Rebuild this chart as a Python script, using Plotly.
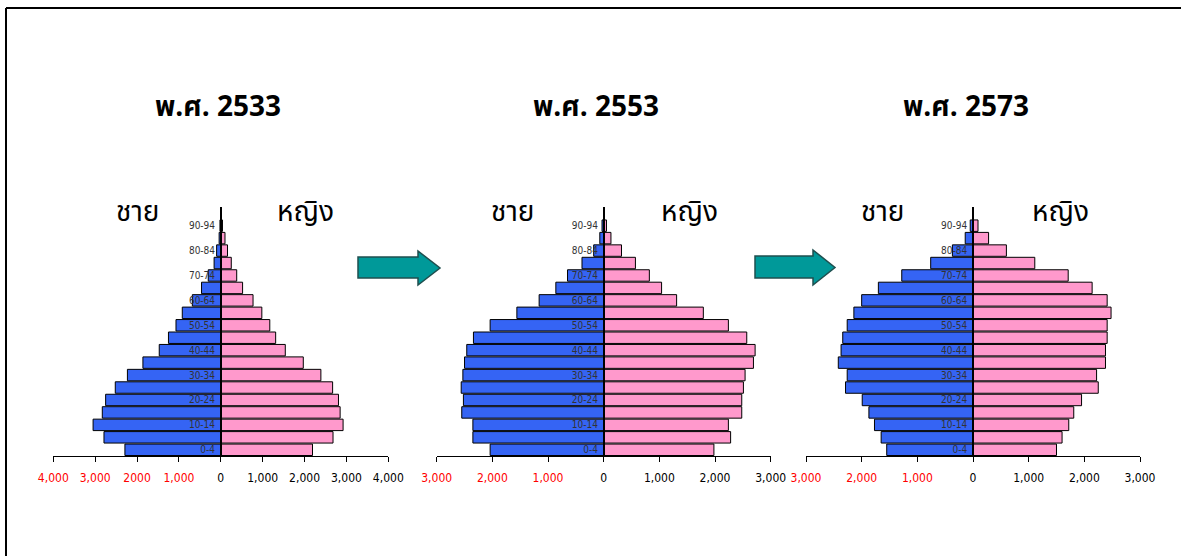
import plotly.graph_objects as go

W, H = 1181, 556

ages = ["0-4", "5-9", "10-14", "15-19", "20-24", "25-29", "30-34", "35-39", "40-44",
        "45-49", "50-54", "55-59", "60-64", "65-69", "70-74", "75-79", "80-84", "85-89", "90-94"]

# thousands of persons
male_2533 = [2290, 2790, 3050, 2830, 2750, 2520, 2230, 1860, 1470, 1250, 1070, 920, 680, 460, 300, 160, 100, 40, 20]
female_2533 = [2190, 2680, 2920, 2850, 2810, 2670, 2390, 1970, 1540, 1310, 1170, 980, 770, 520, 380, 250, 160, 100, 40]

male_2553 = [2040, 2350, 2350, 2550, 2520, 2560, 2530, 2500, 2460, 2340, 2040, 1560, 1160, 860, 650, 390, 180, 70, 30]
female_2553 = [1980, 2280, 2240, 2480, 2480, 2510, 2540, 2690, 2720, 2570, 2240, 1790, 1310, 1040, 820, 570, 320, 130, 50]

male_2573 = [1550, 1650, 1770, 1870, 1990, 2290, 2260, 2420, 2370, 2340, 2260, 2140, 2000, 1700, 1280, 760, 370, 140, 50]
female_2573 = [1500, 1600, 1720, 1810, 1950, 2250, 2220, 2380, 2380, 2410, 2410, 2480, 2410, 2140, 1710, 1110, 600, 280, 90]

titles = ["พ.ศ. 2533", "พ.ศ. 2553", "พ.ศ. 2573"]
male_label = "ชาย"
female_label = "หญิง"

tick_vals_4 = [-4000, -3000, -2000, -1000, 0, 1000, 2000, 3000, 4000]
tick_text_4 = ["4,000", "3,000", "2000", "1,000", "0", "1,000", "2,000", "3,000", "4,000"]
tick_vals_3 = [-3000, -2000, -1000, 0, 1000, 2000, 3000]
tick_text_3 = ["3,000", "2,000", "1,000", "0", "1,000", "2,000", "3,000"]

panels = [
    dict(male=male_2533, female=female_2533, rng=4000, tv=tick_vals_4, tt=tick_text_4,
         px=(53.3, 388.3), title=titles[0], tx=218, mx=137, fx=305),
    dict(male=male_2553, female=female_2553, rng=3000, tv=tick_vals_3, tt=tick_text_3,
         px=(436.7, 770.7), title=titles[1], tx=596, mx=512, fx=690),
    dict(male=male_2573, female=female_2573, rng=3000, tv=tick_vals_3, tt=tick_text_3,
         px=(806.0, 1140.0), title=titles[2], tx=966, mx=882, fx=1060),
]

BLUE = "#3564F4"
PINK = "#FF99CC"
NARROW = "Liberation Sans Narrow, Arial Narrow, DejaVu Sans Condensed, sans-serif"
THAI = "Tahoma, Noto Sans Thai, Loma, Garuda, DejaVu Sans, sans-serif"


def xp(px):
    return px / W


def yp(py):
    return 1 - py / H


y_dom = [yp(456), yp(207)]
idx = list(range(len(ages)))

fig = go.Figure()
layout = dict(
    width=W, height=H, margin=dict(l=0, r=0, t=0, b=0, autoexpand=False),
    paper_bgcolor="white", plot_bgcolor="rgba(0,0,0,0)",
    showlegend=False, bargap=0.08, barmode="overlay",
    annotations=[], shapes=[],
)

for i, p in enumerate(panels):
    n = "" if i == 0 else str(i + 1)
    xa, ya = "x" + n, "y" + n
    fig.add_trace(go.Bar(y=idx, x=[-v for v in p["male"]], orientation="h",
                         marker=dict(color=BLUE, line=dict(color="black", width=1)),
                         xaxis=xa, yaxis=ya, name=male_label))
    fig.add_trace(go.Bar(y=idx, x=p["female"], orientation="h",
                         marker=dict(color=PINK, line=dict(color="black", width=1)),
                         xaxis=xa, yaxis=ya, name=female_label))
    x0, x1 = p["px"]
    zero_px = (x0 + x1) / 2
    ticktext = []
    for v, t in zip(p["tv"], p["tt"]):
        if v < 0:
            ticktext.append('<span style="color:#FF0000">' + t + "</span>")
        else:
            ticktext.append(t)
    layout["xaxis" + n] = dict(
        domain=[xp(x0), xp(x1)], anchor=ya, range=[-p["rng"], p["rng"]],
        tickvals=p["tv"], ticktext=ticktext, ticks="outside", ticklen=5,
        tickcolor="black", showline=True, linecolor="black", linewidth=1,
        showgrid=False, zeroline=False, fixedrange=True, automargin=False,
        ticklabelstandoff=6,
        tickfont=dict(family=NARROW, size=12, color="black"),
    )
    layout["yaxis" + n] = dict(
        domain=y_dom, anchor="free", position=xp(zero_px), range=[-0.5, 19.5],
        tickvals=idx[::2], ticktext=ages[::2], ticks="", showline=True,
        linecolor="black", linewidth=1.5, showgrid=False, zeroline=False,
        tickfont=dict(family=NARROW, size=10, color="#333333"),
        ticklabelstandoff=3, fixedrange=True, automargin=False,
    )
    layout["annotations"].append(dict(
        text="<b>" + p["title"] + "</b>", x=xp(p["tx"]), y=yp(107), xref="paper", yref="paper",
        showarrow=False, xanchor="center", yanchor="middle",
        font=dict(family=THAI, size=28, color="black")))
    layout["annotations"].append(dict(
        text=male_label, x=xp(p["mx"]), y=yp(212), xref="paper", yref="paper",
        showarrow=False, xanchor="center", yanchor="middle",
        font=dict(family=THAI, size=28, color="black")))
    layout["annotations"].append(dict(
        text=female_label, x=xp(p["fx"]), y=yp(212), xref="paper", yref="paper",
        showarrow=False, xanchor="center", yanchor="middle",
        font=dict(family=THAI, size=28, color="black")))


def arrow(xs, xb, xt, st, sb, ht, hb):
    pts = [(xs, st), (xb, st), (xb, ht), (xt, (ht + hb) / 2), (xb, hb), (xb, sb), (xs, sb)]
    path = "M " + " L ".join(f"{xp(a):.5f},{yp(b):.5f}" for a, b in pts) + " Z"
    return dict(type="path", path=path, xref="paper", yref="paper",
                fillcolor="#009999", line=dict(color="#1F4F4F", width=1.5))


layout["shapes"].append(arrow(358, 418, 440, 257, 278, 251, 285))
layout["shapes"].append(arrow(755, 813, 835, 256, 278, 250, 285))
# frame (top and left edges)
layout["shapes"].append(dict(type="line", xref="paper", yref="paper",
                             x0=xp(6), x1=1, y0=yp(8), y1=yp(8),
                             line=dict(color="black", width=2)))
layout["shapes"].append(dict(type="line", xref="paper", yref="paper",
                             x0=xp(6), x1=xp(6), y0=yp(8), y1=0,
                             line=dict(color="black", width=2)))

fig.update_layout(**layout)
fig.write_html(
    "out.html",
    config={"displayModeBar": False},
    post_script="document.body.style.margin='0';document.body.style.overflow='hidden';",
)
